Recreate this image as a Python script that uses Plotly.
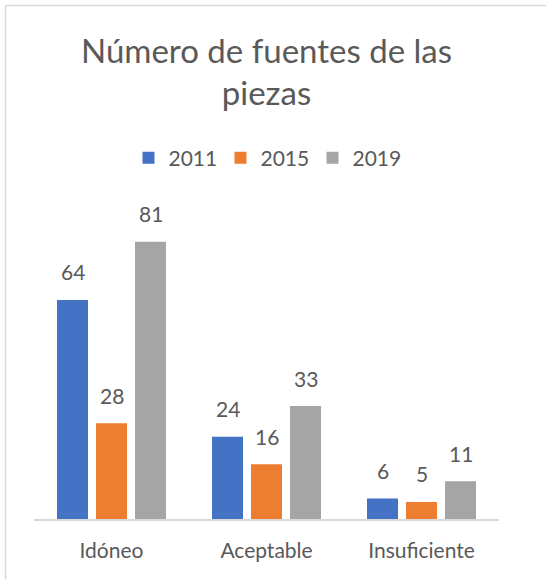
import plotly.graph_objects as go

categories = ["Idóneo", "Aceptable", "Insuficiente"]
years = ["2011", "2015", "2019"]
values_2011 = [64, 24, 6]
values_2015 = [28, 16, 5]
values_2019 = [81, 33, 11]
colors = ["#4472C4", "#ED7D31", "#A5A5A5"]

FONT = "Lato"
TXT = "#595959"
BORDER = "#D9D9D9"
SLOT_PX = 39  # pixel width of one bar slot inside a group

series = [values_2011, values_2015, values_2019]

fig = go.Figure()
annotations = []
for k, (name, vals, col) in enumerate(zip(years, series, colors)):
    fig.add_trace(go.Bar(
        x=categories, y=vals, name=name,
        marker=dict(color=col, line=dict(width=0)),
    ))
    for cat, v in zip(categories, vals):
        annotations.append(dict(
            x=cat, y=v, xref="x", yref="y", text=str(v), showarrow=False,
            xshift=(k - 1) * SLOT_PX, yshift=28, yanchor="middle",
            font=dict(family=FONT, size=21, color=TXT),
        ))

fig.update_layout(
    width=546, height=579,
    paper_bgcolor="white", plot_bgcolor="white",
    margin=dict(l=34, r=47, t=211, b=60),
    barmode="group", bargap=0.245, bargroupgap=0.205,
    title=dict(text="Número de fuentes de las<br>piezas",
               font=dict(family=FONT, size=33, color=TXT),
               x=0.5, xref="paper", xanchor="center",
               y=0.892, yref="container", yanchor="top"),
    legend=dict(orientation="h", x=0.5, xanchor="center", y=1.172, yanchor="middle",
                font=dict(family=FONT, size=21, color=TXT), itemwidth=30,
                entrywidth=47, entrywidthmode="pixels",
                traceorder="normal"),
    xaxis=dict(showline=True, linecolor=BORDER, linewidth=1.5, ticks="",
               ticklabelstandoff=12,
               tickfont=dict(family=FONT, size=21, color=TXT), fixedrange=True),
    yaxis=dict(range=[0, 90], visible=False, showgrid=False, zeroline=False, fixedrange=True),
    showlegend=True,
    annotations=annotations,
    shapes=[
        dict(type="line", xref="paper", yref="paper", x0=-0.0613, x1=1.3, y0=1.667, y1=1.667,
             line=dict(color=BORDER, width=1.5), layer="below"),
        dict(type="line", xref="paper", yref="paper", x0=-0.0613, x1=-0.0613, y0=-0.4, y1=1.667,
             line=dict(color=BORDER, width=1.5), layer="below"),
    ],
)

fig.write_html("out.html", config={"displayModeBar": False},
               post_script="document.body.style.margin='0px';"
                           "document.documentElement.style.overflow='hidden';"
                           "document.body.style.overflow='hidden';")
